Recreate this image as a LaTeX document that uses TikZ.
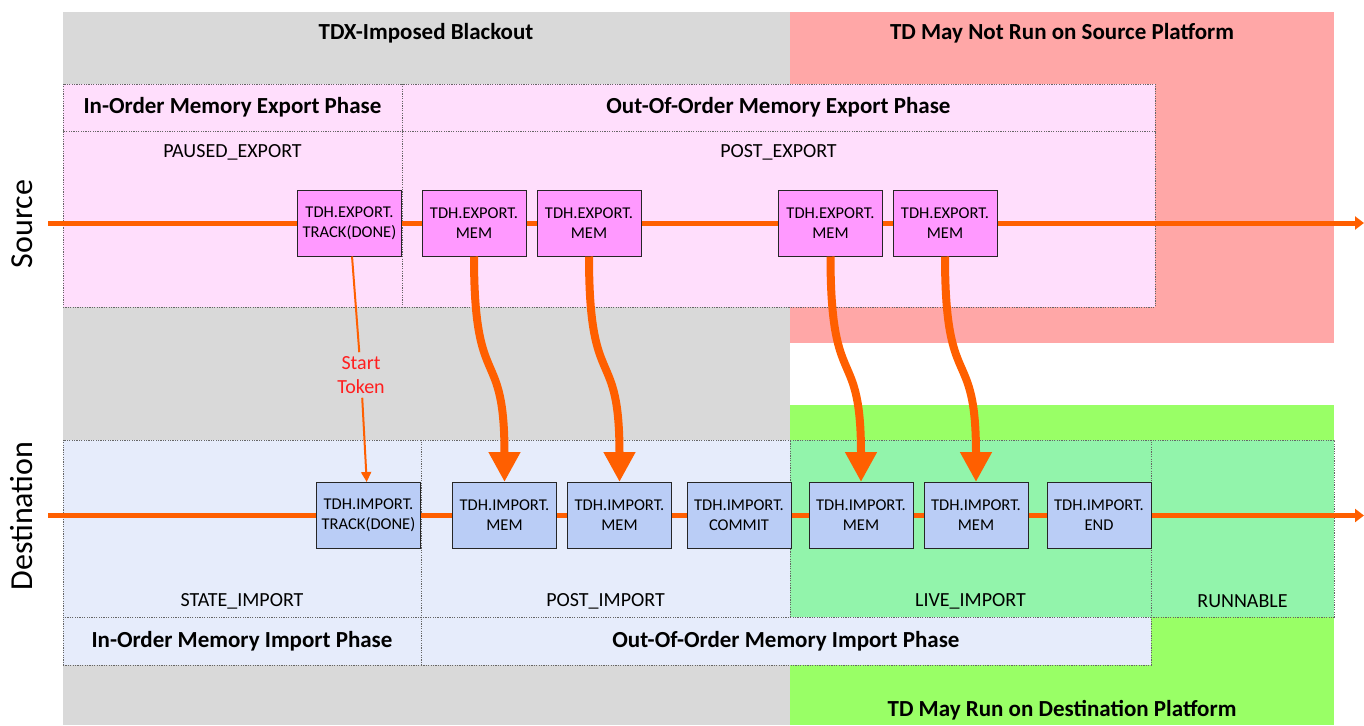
\documentclass[tikz,border=0pt]{standalone}
\usepackage{fontspec}
\setmainfont{Carlito}
\definecolor{blackoutgray}{HTML}{D9D9D9}
\definecolor{norunred}{HTML}{FFA7A7}
\definecolor{mayrungreen}{HTML}{99FF66}
\definecolor{exportpink}{HTML}{FFDEFC}
\definecolor{exportbox}{HTML}{FF99FF}
\definecolor{importblue}{HTML}{E6ECFB}
\definecolor{importbox}{HTML}{BACDF6}
\definecolor{livegreen}{HTML}{92F4AB}
\definecolor{flow}{HTML}{FF5F00}
\definecolor{tokenred}{HTML}{FF1F1F}
\usetikzlibrary{shapes,arrows.meta,positioning}
\tikzstyle{cell} = [rectangle, draw=black!60, dash pattern=on 1.2pt off 1.2pt,
    line width=0.9pt, inner sep=0pt]
\tikzstyle{phasehdr} = [cell, font=\fontsize{23}{27}\selectfont\bfseries]
\tikzstyle{statelbl} = [inner sep=0pt, font=\fontsize{20}{24}\selectfont]
\tikzstyle{banner} = [inner sep=0pt, font=\fontsize{23}{27}\selectfont\bfseries]
\tikzstyle{sidelbl} = [inner sep=0pt, rotate=90, font=\fontsize{32}{38}\selectfont]
\tikzstyle{tdhcall} = [rectangle, draw=black!85, line width=1pt, align=center,
    minimum width=104pt, minimum height=66pt, inner sep=0pt,
    font=\fontsize{16.5}{20}\selectfont]
\tikzstyle{exportcall} = [tdhcall, fill=exportbox]
\tikzstyle{importcall} = [tdhcall, fill=importbox]
\tikzstyle{timeline} = [draw=flow, line width=5pt]
\tikzstyle{migrate} = [draw=flow, line width=8pt, -{Triangle[width=30pt,length=30pt]}]
\tikzstyle{tokenline} = [draw=flow, line width=2pt]
\tikzstyle{tokenlbl} = [align=center, inner sep=4pt, text=tokenred,
    font=\fontsize{20}{24}\selectfont]

\begin{document}
\begin{tikzpicture}[x=1pt, y=-1pt]
  \useasboundingbox (0,0) rectangle (1364,725);
  % platform regions
  \fill [blackoutgray] (63,12) rectangle (790,725);
  \fill [norunred] (790,12) rectangle (1334,343);
  \fill [mayrungreen] (790,405) rectangle (1334,725);
  \node [banner] (blackout_title) at (426,33) {TDX-Imposed Blackout};
  \node [banner] (no_run_title) at (1062,33) {TD May Not Run on Source Platform};
  \node [banner] (may_run_title) at (1062,710) {TD May Run on Destination Platform};

  % source side
  \node [phasehdr, fill=exportpink, minimum width=339pt, minimum height=47pt]
    (in_order_export) at (232.5,107.5) {In-Order Memory Export Phase};
  \node [phasehdr, fill=exportpink, minimum width=753pt, minimum height=47pt]
    (ooo_export) at (778.5,107.5) {Out-Of-Order Memory Export Phase};
  \node [cell, fill=exportpink, minimum width=339pt, minimum height=176pt]
    (paused_export) at (232.5,219) {};
  \node [cell, fill=exportpink, minimum width=753pt, minimum height=176pt]
    (post_export) at (778.5,219) {};
  \node [statelbl] (paused_lbl) at (232.5,152) {PAUSED\_EXPORT};
  \node [statelbl] (post_export_lbl) at (778.5,152) {POST\_EXPORT};
  \node [sidelbl] (source_lbl) at (22,224) {Source};

  % destination side
  \node [cell, fill=importblue, minimum width=358pt, minimum height=177pt]
    (state_import) at (242,528.5) {};
  \node [cell, fill=importblue, minimum width=369pt, minimum height=177pt]
    (post_import) at (605.5,528.5) {};
  \node [cell, fill=livegreen, minimum width=361pt, minimum height=177pt]
    (live_import) at (970.5,528.5) {};
  \node [cell, fill=livegreen, minimum width=183pt, minimum height=177pt]
    (runnable) at (1242.5,528.5) {};
  \node [phasehdr, fill=importblue, minimum width=358pt, minimum height=48pt]
    (in_order_import) at (242,641) {In-Order Memory Import Phase};
  \node [phasehdr, fill=importblue, minimum width=730pt, minimum height=48pt]
    (ooo_import) at (786,641) {Out-Of-Order Memory Import Phase};
  \node [statelbl] (state_import_lbl) at (242,601) {STATE\_IMPORT};
  \node [statelbl] (post_import_lbl) at (605.5,601) {POST\_IMPORT};
  \node [statelbl] (live_import_lbl) at (970.5,601) {LIVE\_IMPORT};
  \node [statelbl] (runnable_lbl) at (1242.5,601) {RUNNABLE};
  \node [sidelbl] (dest_lbl) at (22,516) {Destination};

  % export calls
  \node [exportcall] (exp_track) at (349.5,223) {TDH.EXPORT.\\TRACK(DONE)};
  \node [exportcall, right of=exp_track, node distance=124.5pt] (exp_mem_a) {TDH.EXPORT.\\MEM};
  \node [exportcall, right of=exp_mem_a, node distance=115pt] (exp_mem_b) {TDH.EXPORT.\\MEM};
  \node [exportcall, right of=exp_mem_b, node distance=241.5pt] (exp_mem_c) {TDH.EXPORT.\\MEM};
  \node [exportcall, right of=exp_mem_c, node distance=114.5pt] (exp_mem_d) {TDH.EXPORT.\\MEM};

  % import calls
  \node [importcall] (imp_track) at (368.5,515.5) {TDH.IMPORT.\\TRACK(DONE)};
  \node [importcall, right of=imp_track, node distance=136pt] (imp_mem_a) {TDH.IMPORT.\\MEM};
  \node [importcall, right of=imp_mem_a, node distance=115pt] (imp_mem_b) {TDH.IMPORT.\\MEM};
  \node [importcall, right of=imp_mem_b, node distance=119.5pt] (imp_commit) {TDH.IMPORT.\\COMMIT};
  \node [importcall, right of=imp_commit, node distance=122pt] (imp_mem_c) {TDH.IMPORT.\\MEM};
  \node [importcall, right of=imp_mem_c, node distance=115pt] (imp_mem_d) {TDH.IMPORT.\\MEM};
  \node [importcall, right of=imp_mem_d, node distance=123pt] (imp_end) {TDH.IMPORT.\\END};

  % time lines
  \coordinate (src_start) at (48,223);
  \coordinate (src_end) at (1364,223);
  \coordinate (dst_start) at (48,515.5);
  \coordinate (dst_end) at (1364,515.5);
  \path [timeline] (src_start) -- (exp_track);
  \path [timeline] (exp_track) -- (exp_mem_a);
  \path [timeline] (exp_mem_a) -- (exp_mem_b);
  \path [timeline] (exp_mem_b) -- (exp_mem_c);
  \path [timeline] (exp_mem_c) -- (exp_mem_d);
  \path [timeline, -{Triangle[width=13pt,length=9pt]}] (exp_mem_d) -- (src_end);
  \path [timeline] (dst_start) -- (imp_track);
  \path [timeline] (imp_track) -- (imp_mem_a);
  \path [timeline] (imp_mem_a) -- (imp_mem_b);
  \path [timeline] (imp_mem_b) -- (imp_commit);
  \path [timeline] (imp_commit) -- (imp_mem_c);
  \path [timeline] (imp_mem_c) -- (imp_mem_d);
  \path [timeline] (imp_mem_d) -- (imp_end);
  \path [timeline, -{Triangle[width=13pt,length=9pt]}] (imp_end) -- (dst_end);

  % start token
  \node [tokenlbl] (start_token) at (361,375) {Start\\Token};
  \path [tokenline] (exp_track) -- (start_token);
  \path [tokenline, -{Triangle[width=10pt,length=10pt]}] (start_token) -- (imp_track);

  % memory pages
  \path [migrate] (exp_mem_a.south) .. controls +(0,140) and +(0,-140) .. (imp_mem_a.north);
  \path [migrate] (exp_mem_b.south) .. controls +(0,140) and +(0,-140) .. (imp_mem_b.north);
  \path [migrate] (exp_mem_c.south) .. controls +(0,140) and +(0,-140) .. (imp_mem_c.north);
  \path [migrate] (exp_mem_d.south) .. controls +(0,140) and +(0,-140) .. (imp_mem_d.north);
\end{tikzpicture}
\end{document}
